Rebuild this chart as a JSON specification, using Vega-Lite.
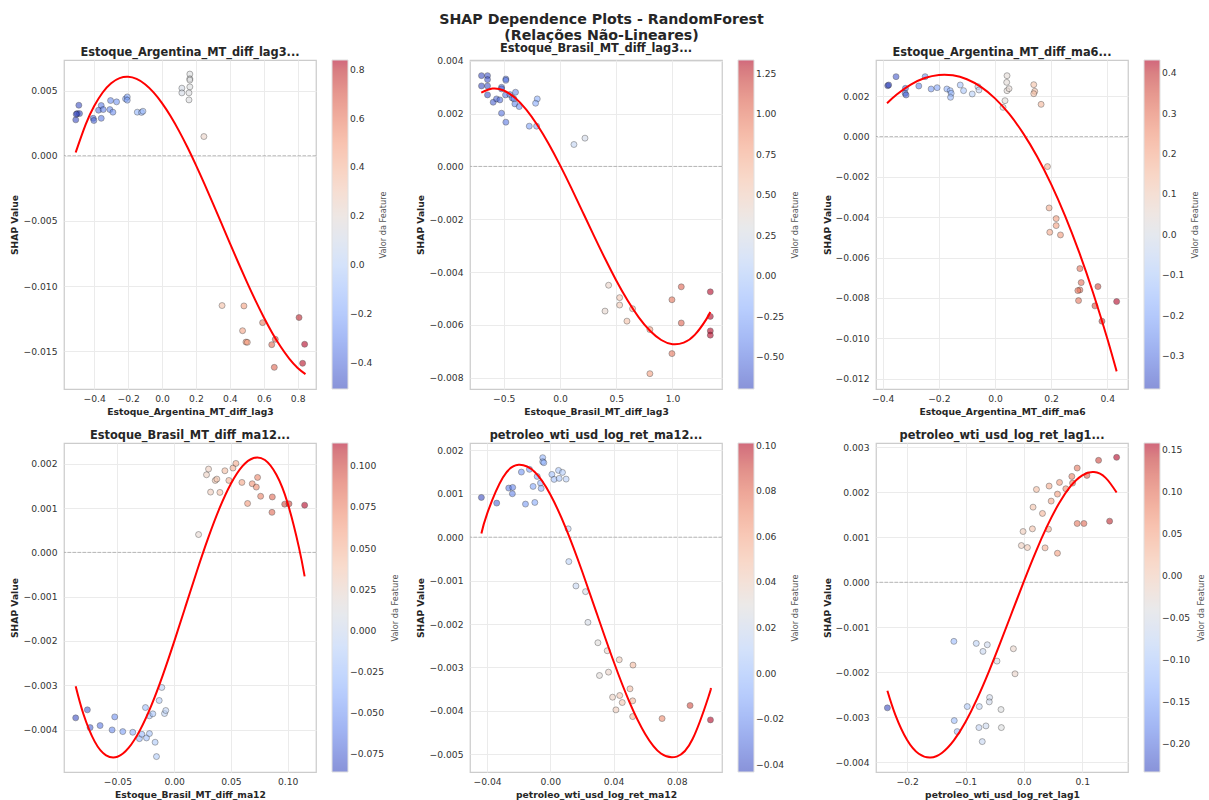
{
  "$schema": "https://vega.github.io/schema/vega-lite/v6.json",
  "padding": {"left": 10, "top": 12, "right": 5, "bottom": 5},
  "background": "white",
  "title": {"text": ["SHAP Dependence Plots - RandomForest", "(Relações Não-Lineares)"], "fontSize": 14.2, "fontWeight": "bold", "lineHeight": 16, "offset": 0, "dx": -7, "anchor": "middle", "color": "#262626", "font": "DejaVu Sans"},
  "datasets": {
    "zero": [{"y": 0}],
    "p1": [
      {"x": -0.4905, "y": 0.00387}, {"x": -0.5003, "y": 0.00323}, {"x": -0.4865, "y": 0.00323}, {"x": -0.5086, "y": 0.00275}, {"x": -0.506, "y": 0.00318},
      {"x": -0.4058, "y": 0.00287}, {"x": -0.4018, "y": 0.0027}, {"x": -0.3743, "y": 0.00349}, {"x": -0.3585, "y": 0.00385}, {"x": -0.3585, "y": 0.00287},
      {"x": -0.3467, "y": 0.00354}, {"x": -0.3034, "y": 0.00423}, {"x": -0.3074, "y": 0.00354}, {"x": -0.2896, "y": 0.00334}, {"x": -0.268, "y": 0.00413},
      {"x": -0.2149, "y": 0.00436}, {"x": -0.205, "y": 0.00451}, {"x": -0.205, "y": 0.00426}, {"x": -0.1459, "y": 0.00334}, {"x": -0.121, "y": 0.00332},
      {"x": -0.1125, "y": 0.00341}, {"x": 0.117, "y": 0.00518}, {"x": 0.117, "y": 0.00482}, {"x": 0.164, "y": 0.00626}, {"x": 0.164, "y": 0.0059},
      {"x": 0.164, "y": 0.0058}, {"x": 0.164, "y": 0.00528}, {"x": 0.159, "y": 0.00482}, {"x": 0.159, "y": 0.00428}, {"x": 0.247, "y": 0.00147},
      {"x": 0.354, "y": -0.01149}, {"x": 0.483, "y": -0.01152}, {"x": 0.593, "y": -0.0128}, {"x": 0.475, "y": -0.01342}, {"x": 0.495, "y": -0.01429},
      {"x": 0.503, "y": -0.01431}, {"x": 0.647, "y": -0.01449}, {"x": 0.668, "y": -0.01408}, {"x": 0.662, "y": -0.01623}, {"x": 0.808, "y": -0.01241},
      {"x": 0.841, "y": -0.01446}, {"x": 0.829, "y": -0.01592}
    ],
    "c1": [
      {"x": -0.509, "y": 0.00025}, {"x": -0.45, "y": 0.002404}, {"x": -0.4, "y": 0.003807}, {"x": -0.35, "y": 0.004847}, {"x": -0.3, "y": 0.005556},
      {"x": -0.25, "y": 0.005948}, {"x": -0.2, "y": 0.00605}, {"x": -0.15, "y": 0.005886}, {"x": -0.1, "y": 0.00548}, {"x": -0.05, "y": 0.004856},
      {"x": 0, "y": 0.004036}, {"x": 0.05, "y": 0.003045}, {"x": 0.1, "y": 0.001906}, {"x": 0.15, "y": 0.000644}, {"x": 0.2, "y": -0.000719},
      {"x": 0.25, "y": -0.002159}, {"x": 0.3, "y": -0.003651}, {"x": 0.35, "y": -0.005173}, {"x": 0.4, "y": -0.0067}, {"x": 0.45, "y": -0.008209},
      {"x": 0.5, "y": -0.009676}, {"x": 0.55, "y": -0.011078}, {"x": 0.6, "y": -0.01239}, {"x": 0.65, "y": -0.01359}, {"x": 0.7, "y": -0.014653},
      {"x": 0.75, "y": -0.015555}, {"x": 0.8, "y": -0.016274}, {"x": 0.846, "y": -0.016752}
    ],
    "p2": [
      {"x": -0.6976, "y": 0.003438}, {"x": -0.6443, "y": 0.003438}, {"x": -0.6443, "y": 0.003287}, {"x": -0.6976, "y": 0.003048}, {"x": -0.6443, "y": 0.003048},
      {"x": -0.6443, "y": 0.002708}, {"x": -0.5939, "y": 0.002431}, {"x": -0.5643, "y": 0.002557}, {"x": -0.5346, "y": 0.002519}, {"x": -0.5198, "y": 0.002997},
      {"x": -0.5198, "y": 0.002935}, {"x": -0.4813, "y": 0.00331}, {"x": -0.4813, "y": 0.00326}, {"x": -0.4842, "y": 0.002708}, {"x": -0.4456, "y": 0.00272},
      {"x": -0.4249, "y": 0.002594}, {"x": -0.41, "y": 0.00256}, {"x": -0.3953, "y": 0.002809}, {"x": -0.4012, "y": 0.002368}, {"x": -0.3626, "y": 0.002267},
      {"x": -0.5198, "y": 0.002015}, {"x": -0.4813, "y": 0.001675}, {"x": -0.2732, "y": 0.001524}, {"x": -0.208, "y": 0.001524}, {"x": -0.2021, "y": 0.002557},
      {"x": -0.2169, "y": 0.002393}, {"x": 0.124, "y": 0.00083}, {"x": 0.222, "y": 0.00107}, {"x": 0.432, "y": -0.0045}, {"x": 0.4, "y": -0.00548},
      {"x": 0.53, "y": -0.00497}, {"x": 0.53, "y": -0.00525}, {"x": 0.645, "y": -0.00539}, {"x": 0.595, "y": -0.00586}, {"x": 0.799, "y": -0.00618},
      {"x": 0.799, "y": -0.00785}, {"x": 0.995, "y": -0.00505}, {"x": 0.995, "y": -0.00709}, {"x": 1.078, "y": -0.00456}, {"x": 1.078, "y": -0.00593},
      {"x": 1.336, "y": -0.00475}, {"x": 1.336, "y": -0.00568}, {"x": 1.336, "y": -0.00623}, {"x": 1.336, "y": -0.00639}
    ],
    "c2": [
      {"x": -0.7, "y": 0.002792}, {"x": -0.6, "y": 0.002948}, {"x": -0.5, "y": 0.002874}, {"x": -0.4, "y": 0.002599}, {"x": -0.3, "y": 0.002151},
      {"x": -0.2, "y": 0.001558}, {"x": -0.1, "y": 0.000847}, {"x": 0, "y": 0.000047}, {"x": 0.1, "y": -0.000814}, {"x": 0.2, "y": -0.00171},
      {"x": 0.3, "y": -0.002611}, {"x": 0.4, "y": -0.00349}, {"x": 0.5, "y": -0.004319}, {"x": 0.6, "y": -0.005069}, {"x": 0.7, "y": -0.005714},
      {"x": 0.8, "y": -0.006225}, {"x": 0.9, "y": -0.006574}, {"x": 1.0, "y": -0.006734}, {"x": 1.1, "y": -0.006675}, {"x": 1.2, "y": -0.006372},
      {"x": 1.3, "y": -0.005794}, {"x": 1.336, "y": -0.005514}
    ],
    "p3": [
      {"x": -0.3821, "y": 0.002524}, {"x": -0.3786, "y": 0.002556}, {"x": -0.3524, "y": 0.002969}, {"x": -0.319, "y": 0.002391}, {"x": -0.3202, "y": 0.002144},
      {"x": -0.3167, "y": 0.002061}, {"x": -0.2714, "y": 0.002507}, {"x": -0.2488, "y": 0.002969}, {"x": -0.2274, "y": 0.002358}, {"x": -0.206, "y": 0.002424},
      {"x": -0.1714, "y": 0.002358}, {"x": -0.1595, "y": 0.002276}, {"x": -0.156, "y": 0.002144}, {"x": -0.1583, "y": 0.001946}, {"x": -0.1238, "y": 0.002556},
      {"x": -0.1119, "y": 0.002276}, {"x": -0.081, "y": 0.002111}, {"x": -0.0607, "y": 0.002474}, {"x": -0.0571, "y": 0.002309}, {"x": 0.0429, "y": 0.003017},
      {"x": 0.0417, "y": 0.002687}, {"x": 0.0429, "y": 0.002274}, {"x": 0.05, "y": 0.002373}, {"x": 0.0357, "y": 0.00178}, {"x": 0.0286, "y": 0.00145},
      {"x": 0.1381, "y": 0.002572}, {"x": 0.1417, "y": 0.002242}, {"x": 0.1381, "y": 0.002126}, {"x": 0.1643, "y": 0.001598}, {"x": 0.1869, "y": -0.001488},
      {"x": 0.1929, "y": -0.003536}, {"x": 0.2179, "y": -0.004066}, {"x": 0.2179, "y": -0.004412}, {"x": 0.1952, "y": -0.004742}, {"x": 0.2333, "y": -0.004875},
      {"x": 0.3024, "y": -0.006543}, {"x": 0.3071, "y": -0.007237}, {"x": 0.3024, "y": -0.007601}, {"x": 0.2952, "y": -0.007634}, {"x": 0.2976, "y": -0.008129},
      {"x": 0.3667, "y": -0.007435}, {"x": 0.356, "y": -0.00839}, {"x": 0.381, "y": -0.00915}, {"x": 0.4333, "y": -0.008177}
    ],
    "c3": [
      {"x": -0.3845, "y": 0.001654}, {"x": -0.35, "y": 0.002085}, {"x": -0.3, "y": 0.002575}, {"x": -0.25, "y": 0.0029}, {"x": -0.2, "y": 0.003056},
      {"x": -0.15, "y": 0.003038}, {"x": -0.1, "y": 0.002842}, {"x": -0.05, "y": 0.002462}, {"x": 0, "y": 0.001893}, {"x": 0.05, "y": 0.001132},
      {"x": 0.1, "y": 0.000172}, {"x": 0.15, "y": -0.00099}, {"x": 0.2, "y": -0.00236}, {"x": 0.25, "y": -0.003942}, {"x": 0.3, "y": -0.005741},
      {"x": 0.35, "y": -0.007762}, {"x": 0.4, "y": -0.010011}, {"x": 0.4333, "y": -0.011637}
    ],
    "p4": [
      {"x": -0.0868, "y": -0.003735}, {"x": -0.0765, "y": -0.003554}, {"x": -0.0741, "y": -0.003954}, {"x": -0.0653, "y": -0.003909}, {"x": -0.0547, "y": -0.004007},
      {"x": -0.0524, "y": -0.003713}, {"x": -0.0453, "y": -0.004045}, {"x": -0.0365, "y": -0.00406}, {"x": -0.0306, "y": -0.004204}, {"x": -0.0285, "y": -0.004105},
      {"x": -0.0244, "y": -0.004188}, {"x": -0.0253, "y": -0.003502}, {"x": -0.0218, "y": -0.00409}, {"x": -0.0218, "y": -0.00369}, {"x": -0.0188, "y": -0.003644},
      {"x": -0.0168, "y": -0.004285}, {"x": -0.0156, "y": -0.004609}, {"x": -0.0132, "y": -0.003343}, {"x": -0.0109, "y": -0.003049}, {"x": -0.0085, "y": -0.003637},
      {"x": -0.0074, "y": -0.003569}, {"x": 0.0215, "y": 0.000403}, {"x": 0.0285, "y": 0.001752}, {"x": 0.0303, "y": 0.001881}, {"x": 0.0321, "y": 0.001361},
      {"x": 0.0362, "y": 0.001624}, {"x": 0.0376, "y": 0.001654}, {"x": 0.0403, "y": 0.001354}, {"x": 0.0447, "y": 0.001842}, {"x": 0.0482, "y": 0.001624},
      {"x": 0.0518, "y": 0.001903}, {"x": 0.0544, "y": 0.002008}, {"x": 0.0597, "y": 0.001579}, {"x": 0.0647, "y": 0.001104}, {"x": 0.0688, "y": 0.001549},
      {"x": 0.0724, "y": 0.001474}, {"x": 0.0735, "y": 0.001692}, {"x": 0.0762, "y": 0.001267}, {"x": 0.0865, "y": 0.001251}, {"x": 0.0862, "y": 0.000904},
      {"x": 0.0974, "y": 0.001088}, {"x": 0.1012, "y": 0.001096}, {"x": 0.115, "y": 0.001066}
    ],
    "c4": [
      {"x": -0.0868, "y": -0.003021}, {"x": -0.08, "y": -0.003647}, {"x": -0.07, "y": -0.004272}, {"x": -0.06, "y": -0.004581}, {"x": -0.05, "y": -0.004613},
      {"x": -0.04, "y": -0.004408}, {"x": -0.03, "y": -0.004006}, {"x": -0.02, "y": -0.003447}, {"x": -0.01, "y": -0.002769}, {"x": 0, "y": -0.002014},
      {"x": 0.01, "y": -0.001219}, {"x": 0.02, "y": -0.000426}, {"x": 0.03, "y": 0.000326}, {"x": 0.04, "y": 0.000997}, {"x": 0.05, "y": 0.001548},
      {"x": 0.06, "y": 0.00194}, {"x": 0.07, "y": 0.002131}, {"x": 0.08, "y": 0.002084}, {"x": 0.09, "y": 0.001757}, {"x": 0.1, "y": 0.001112},
      {"x": 0.11, "y": 0.000108}, {"x": 0.115, "y": -0.000541}
    ],
    "p5": [
      {"x": -0.0436, "y": 0.000915}, {"x": -0.0339, "y": 0.000785}, {"x": -0.0263, "y": 0.001131}, {"x": -0.0238, "y": 0.001146}, {"x": -0.024, "y": 0.001},
      {"x": -0.0183, "y": 0.0015}, {"x": -0.0157, "y": 0.000762}, {"x": -0.0132, "y": 0.001562}, {"x": -0.0109, "y": 0.001169}, {"x": -0.0098, "y": 0.0008},
      {"x": -0.0083, "y": 0.0014}, {"x": -0.0062, "y": 0.001246}, {"x": -0.0058, "y": 0.001123}, {"x": -0.0048, "y": 0.001831}, {"x": -0.0048, "y": 0.001738},
      {"x": -0.0041, "y": 0.001715}, {"x": 0.001, "y": 0.001446}, {"x": 0.0024, "y": 0.001331}, {"x": 0.0052, "y": 0.001538}, {"x": 0.0056, "y": 0.001354},
      {"x": 0.0077, "y": 0.001492}, {"x": 0.01, "y": 0.001338}, {"x": 0.0113, "y": 0.000192}, {"x": 0.0117, "y": -0.000562}, {"x": 0.0162, "y": -0.001123},
      {"x": 0.0223, "y": -0.001254}, {"x": 0.0238, "y": -0.001962}, {"x": 0.0301, "y": -0.002431}, {"x": 0.036, "y": -0.002615}, {"x": 0.0311, "y": -0.003185},
      {"x": 0.0368, "y": -0.003108}, {"x": 0.0436, "y": -0.002823}, {"x": 0.0523, "y": -0.002946}, {"x": 0.0394, "y": -0.003685}, {"x": 0.0439, "y": -0.003646},
      {"x": 0.0455, "y": -0.003808}, {"x": 0.0415, "y": -0.003977}, {"x": 0.0504, "y": -0.003492}, {"x": 0.0521, "y": -0.003769}, {"x": 0.0521, "y": -0.004131},
      {"x": 0.0707, "y": -0.004177}, {"x": 0.0884, "y": -0.003877}, {"x": 0.1013, "y": -0.004208}
    ],
    "c5": [
      {"x": -0.0436, "y": 0.000085}, {"x": -0.04, "y": 0.000538}, {"x": -0.03, "y": 0.001375}, {"x": -0.02, "y": 0.001666}, {"x": -0.01, "y": 0.001505},
      {"x": 0, "y": 0.000982}, {"x": 0.01, "y": 0.000192}, {"x": 0.02, "y": -0.000773}, {"x": 0.03, "y": -0.00182}, {"x": 0.04, "y": -0.002858},
      {"x": 0.05, "y": -0.003792}, {"x": 0.06, "y": -0.004531}, {"x": 0.07, "y": -0.004982}, {"x": 0.08, "y": -0.005053}, {"x": 0.09, "y": -0.004649},
      {"x": 0.1, "y": -0.00368}, {"x": 0.1013, "y": -0.003507}
    ],
    "p6": [
      {"x": -0.2338, "y": -0.002788}, {"x": -0.1199, "y": -0.001312}, {"x": -0.1193, "y": -0.003071}, {"x": -0.1142, "y": -0.003315}, {"x": -0.097, "y": -0.002759},
      {"x": -0.0816, "y": -0.001357}, {"x": -0.0701, "y": -0.001535}, {"x": -0.0627, "y": -0.001387}, {"x": -0.0764, "y": -0.002759}, {"x": -0.077, "y": -0.003226},
      {"x": -0.0713, "y": -0.003537}, {"x": -0.065, "y": -0.003189}, {"x": -0.0587, "y": -0.002558}, {"x": -0.0593, "y": -0.002655}, {"x": -0.0461, "y": -0.00175},
      {"x": -0.0392, "y": -0.002825}, {"x": -0.0386, "y": -0.003226}, {"x": -0.018, "y": -0.001476}, {"x": -0.0152, "y": -0.002032}, {"x": -0.0043, "y": 0.000816},
      {"x": -0.0014, "y": 0.001127}, {"x": 0.006, "y": 0.000771}, {"x": 0.0146, "y": 0.001186}, {"x": 0.0157, "y": 0.001668}, {"x": 0.0215, "y": 0.002061},
      {"x": 0.0318, "y": 0.001528}, {"x": 0.0363, "y": 0.000764}, {"x": 0.0421, "y": 0.001179}, {"x": 0.0432, "y": 0.002136}, {"x": 0.0467, "y": 0.001802},
      {"x": 0.0575, "y": 0.001958}, {"x": 0.0575, "y": 0.000645}, {"x": 0.061, "y": 0.002217}, {"x": 0.0718, "y": 0.002076}, {"x": 0.0821, "y": 0.00235},
      {"x": 0.0833, "y": 0.002202}, {"x": 0.0913, "y": 0.002536}, {"x": 0.0913, "y": 0.001305}, {"x": 0.1028, "y": 0.001305}, {"x": 0.1079, "y": 0.002373},
      {"x": 0.1279, "y": 0.002707}, {"x": 0.1468, "y": 0.001357}, {"x": 0.1588, "y": 0.002773}
    ],
    "c6": [
      {"x": -0.2338, "y": -0.002408}, {"x": -0.22, "y": -0.002949}, {"x": -0.2, "y": -0.003503}, {"x": -0.18, "y": -0.003808}, {"x": -0.16, "y": -0.003892},
      {"x": -0.14, "y": -0.003784}, {"x": -0.12, "y": -0.003511}, {"x": -0.1, "y": -0.003102}, {"x": -0.08, "y": -0.002583}, {"x": -0.06, "y": -0.001983},
      {"x": -0.04, "y": -0.001331}, {"x": -0.02, "y": -0.000653}, {"x": 0, "y": 0.000022}, {"x": 0.02, "y": 0.000666}, {"x": 0.04, "y": 0.001251},
      {"x": 0.06, "y": 0.001749}, {"x": 0.08, "y": 0.002133}, {"x": 0.1, "y": 0.002375}, {"x": 0.12, "y": 0.002446}, {"x": 0.14, "y": 0.002318},
      {"x": 0.1588, "y": 0.001992}
    ]
  },
  "columns": 3,
  "bounds": "flush",
  "spacing": {"row": 54, "column": 154},
  "resolve": {"scale": {"color": "independent", "x": "independent", "y": "independent"}, "legend": {"color": "independent"}},
  "concat": [
    {
      "width": 252, "height": 329,
      "title": {"text": "Estoque_Argentina_MT_diff_lag3...", "frame": "group", "fontSize": 11.4, "fontWeight": "bold", "offset": 2, "color": "#262626"},
      "layer": [
        {"data": {"name": "zero"}, "mark": {"type": "rule", "stroke": "#808080", "strokeDash": [3.5, 1.5], "strokeWidth": 1, "opacity": 0.5}, "encoding": {"y": {"field": "y", "type": "quantitative"}}},
        {"data": {"name": "p1"}, "mark": {"type": "circle", "size": 36, "opacity": 0.6, "stroke": "black", "strokeWidth": 0.5},
          "encoding": {
            "x": {"field": "x", "type": "quantitative", "scale": {"domain": [-0.578, 0.908], "nice": false, "zero": false}, "axis": {"title": "Estoque_Argentina_MT_diff_lag3", "values": [-0.4, -0.2, 0, 0.2, 0.4, 0.6, 0.8], "format": ".1f"}},
            "y": {"field": "y", "type": "quantitative", "scale": {"domain": [-0.01789, 0.00734], "nice": false, "zero": false}, "axis": {"title": "SHAP Value", "values": [-0.015, -0.01, -0.005, 0, 0.005], "format": ".3f"}},
            "color": {"field": "x", "type": "quantitative", "scale": {"domain": [-0.505, -0.337, -0.169, -0.001, 0.167, 0.335, 0.503, 0.671, 0.839], "range": ["#3b4cc0", "#6282ea", "#8db0fe", "#b8d0f9", "#dddddd", "#f5c4ac", "#f49a7b", "#de604d", "#b40426"], "clamp": true}, "legend": {"title": "Valor da Feature", "values": [-0.4, -0.2, 0, 0.2, 0.4, 0.6, 0.8], "format": ".1f", "encode": {"title": {"update": {"angle": {"value": 270}, "align": {"value": "center"}, "baseline": {"value": "top"}}}}}}
          }},
        {"data": {"name": "c1"}, "mark": {"type": "line", "stroke": "red", "strokeWidth": 2, "interpolate": "natural"}, "encoding": {"x": {"field": "x", "type": "quantitative"}, "y": {"field": "y", "type": "quantitative"}}}
      ]
    },
    {
      "width": 252, "height": 329,
      "title": {"text": "Estoque_Brasil_MT_diff_lag3...", "frame": "group", "fontSize": 11.4, "fontWeight": "bold", "offset": 2, "color": "#262626"},
      "layer": [
        {"data": {"name": "zero"}, "mark": {"type": "rule", "stroke": "#808080", "strokeDash": [3.5, 1.5], "strokeWidth": 1, "opacity": 0.5}, "encoding": {"y": {"field": "y", "type": "quantitative"}}},
        {"data": {"name": "p2"}, "mark": {"type": "circle", "size": 36, "opacity": 0.6, "stroke": "black", "strokeWidth": 0.5},
          "encoding": {
            "x": {"field": "x", "type": "quantitative", "scale": {"domain": [-0.8, 1.44], "nice": false, "zero": false}, "axis": {"title": "Estoque_Brasil_MT_diff_lag3", "values": [-0.5, 0, 0.5, 1.0], "format": ".1f"}},
            "y": {"field": "y", "type": "quantitative", "scale": {"domain": [-0.00843, 0.00403], "nice": false, "zero": false}, "axis": {"title": "SHAP Value", "values": [-0.008, -0.006, -0.004, -0.002, 0, 0.002, 0.004], "format": ".3f"}},
            "color": {"field": "x", "type": "quantitative", "scale": {"domain": [-0.698, -0.443625, -0.18925, 0.065125, 0.3195, 0.573875, 0.82825, 1.082625, 1.337], "range": ["#3b4cc0", "#6282ea", "#8db0fe", "#b8d0f9", "#dddddd", "#f5c4ac", "#f49a7b", "#de604d", "#b40426"], "clamp": true}, "legend": {"title": "Valor da Feature", "values": [-0.5, -0.25, 0, 0.25, 0.5, 0.75, 1.0, 1.25], "format": ".2f", "encode": {"title": {"update": {"angle": {"value": 270}, "align": {"value": "center"}, "baseline": {"value": "top"}}}}}}
          }},
        {"data": {"name": "c2"}, "mark": {"type": "line", "stroke": "red", "strokeWidth": 2, "interpolate": "natural"}, "encoding": {"x": {"field": "x", "type": "quantitative"}, "y": {"field": "y", "type": "quantitative"}}}
      ]
    },
    {
      "width": 252, "height": 329,
      "title": {"text": "Estoque_Argentina_MT_diff_ma6...", "frame": "group", "fontSize": 11.4, "fontWeight": "bold", "offset": 2, "color": "#262626"},
      "layer": [
        {"data": {"name": "zero"}, "mark": {"type": "rule", "stroke": "#808080", "strokeDash": [3.5, 1.5], "strokeWidth": 1, "opacity": 0.5}, "encoding": {"y": {"field": "y", "type": "quantitative"}}},
        {"data": {"name": "p3"}, "mark": {"type": "circle", "size": 36, "opacity": 0.6, "stroke": "black", "strokeWidth": 0.5},
          "encoding": {
            "x": {"field": "x", "type": "quantitative", "scale": {"domain": [-0.4238, 0.4738], "nice": false, "zero": false}, "axis": {"title": "Estoque_Argentina_MT_diff_ma6", "values": [-0.4, -0.2, 0, 0.2, 0.4], "format": ".1f"}},
            "y": {"field": "y", "type": "quantitative", "scale": {"domain": [-0.01251, 0.003795], "nice": false, "zero": false}, "axis": {"title": "SHAP Value", "values": [-0.012, -0.01, -0.008, -0.006, -0.004, -0.002, 0, 0.002], "format": ".3f"}},
            "color": {"field": "x", "type": "quantitative", "scale": {"domain": [-0.382, -0.280125, -0.17825, -0.076375, 0.0255, 0.127375, 0.22925, 0.331125, 0.433], "range": ["#3b4cc0", "#6282ea", "#8db0fe", "#b8d0f9", "#dddddd", "#f5c4ac", "#f49a7b", "#de604d", "#b40426"], "clamp": true}, "legend": {"title": "Valor da Feature", "values": [-0.3, -0.2, -0.1, 0, 0.1, 0.2, 0.3, 0.4], "format": ".1f", "encode": {"title": {"update": {"angle": {"value": 270}, "align": {"value": "center"}, "baseline": {"value": "top"}}}}}}
          }},
        {"data": {"name": "c3"}, "mark": {"type": "line", "stroke": "red", "strokeWidth": 2, "interpolate": "natural"}, "encoding": {"x": {"field": "x", "type": "quantitative"}, "y": {"field": "y", "type": "quantitative"}}}
      ]
    },
    {
      "width": 252, "height": 329,
      "title": {"text": "Estoque_Brasil_MT_diff_ma12...", "frame": "group", "fontSize": 11.4, "fontWeight": "bold", "offset": 2, "color": "#262626"},
      "layer": [
        {"data": {"name": "zero"}, "mark": {"type": "rule", "stroke": "#808080", "strokeDash": [3.5, 1.5], "strokeWidth": 1, "opacity": 0.5}, "encoding": {"y": {"field": "y", "type": "quantitative"}}},
        {"data": {"name": "p4"}, "mark": {"type": "circle", "size": 36, "opacity": 0.6, "stroke": "black", "strokeWidth": 0.5},
          "encoding": {
            "x": {"field": "x", "type": "quantitative", "scale": {"domain": [-0.0971, 0.125], "nice": false, "zero": false}, "axis": {"title": "Estoque_Brasil_MT_diff_ma12", "values": [-0.05, 0, 0.05, 0.1], "format": ".2f"}},
            "y": {"field": "y", "type": "quantitative", "scale": {"domain": [-0.004957, 0.002469], "nice": false, "zero": false}, "axis": {"title": "SHAP Value", "values": [-0.004, -0.003, -0.002, -0.001, 0, 0.001, 0.002], "format": ".3f"}},
            "color": {"field": "x", "type": "quantitative", "scale": {"domain": [-0.0858, -0.0608, -0.0358, -0.0108, 0.0142, 0.0392, 0.0642, 0.0892, 0.1142], "range": ["#3b4cc0", "#6282ea", "#8db0fe", "#b8d0f9", "#dddddd", "#f5c4ac", "#f49a7b", "#de604d", "#b40426"], "clamp": true}, "legend": {"title": "Valor da Feature", "values": [-0.075, -0.05, -0.025, 0, 0.025, 0.05, 0.075, 0.1], "format": ".3f", "encode": {"title": {"update": {"angle": {"value": 270}, "align": {"value": "center"}, "baseline": {"value": "top"}}}}}}
          }},
        {"data": {"name": "c4"}, "mark": {"type": "line", "stroke": "red", "strokeWidth": 2, "interpolate": "natural"}, "encoding": {"x": {"field": "x", "type": "quantitative"}, "y": {"field": "y", "type": "quantitative"}}}
      ]
    },
    {
      "width": 252, "height": 329,
      "title": {"text": "petroleo_wti_usd_log_ret_ma12...", "frame": "group", "fontSize": 11.4, "fontWeight": "bold", "offset": 2, "color": "#262626"},
      "layer": [
        {"data": {"name": "zero"}, "mark": {"type": "rule", "stroke": "#808080", "strokeDash": [3.5, 1.5], "strokeWidth": 1, "opacity": 0.5}, "encoding": {"y": {"field": "y", "type": "quantitative"}}},
        {"data": {"name": "p5"}, "mark": {"type": "circle", "size": 36, "opacity": 0.6, "stroke": "black", "strokeWidth": 0.5},
          "encoding": {
            "x": {"field": "x", "type": "quantitative", "scale": {"domain": [-0.0508, 0.1086], "nice": false, "zero": false}, "axis": {"title": "petroleo_wti_usd_log_ret_ma12", "values": [-0.04, -0.02, 0, 0.02, 0.04, 0.06, 0.08, 0.1], "format": ".2f"}},
            "y": {"field": "y", "type": "quantitative", "scale": {"domain": [-0.005408, 0.002169], "nice": false, "zero": false}, "axis": {"title": "SHAP Value", "values": [-0.005, -0.004, -0.003, -0.002, -0.001, 0, 0.001, 0.002], "format": ".3f"}},
            "color": {"field": "x", "type": "quantitative", "scale": {"domain": [-0.0432, -0.02515, -0.0071, 0.01095, 0.029, 0.04705, 0.0651, 0.08315, 0.1012], "range": ["#3b4cc0", "#6282ea", "#8db0fe", "#b8d0f9", "#dddddd", "#f5c4ac", "#f49a7b", "#de604d", "#b40426"], "clamp": true}, "legend": {"title": "Valor da Feature", "values": [-0.04, -0.02, 0, 0.02, 0.04, 0.06, 0.08, 0.1], "format": ".2f", "encode": {"title": {"update": {"angle": {"value": 270}, "align": {"value": "center"}, "baseline": {"value": "top"}}}}}}
          }},
        {"data": {"name": "c5"}, "mark": {"type": "line", "stroke": "red", "strokeWidth": 2, "interpolate": "natural"}, "encoding": {"x": {"field": "x", "type": "quantitative"}, "y": {"field": "y", "type": "quantitative"}}}
      ]
    },
    {
      "width": 252, "height": 329,
      "title": {"text": "petroleo_wti_usd_log_ret_lag1...", "frame": "group", "fontSize": 11.4, "fontWeight": "bold", "offset": 2, "color": "#262626"},
      "layer": [
        {"data": {"name": "zero"}, "mark": {"type": "rule", "stroke": "#808080", "strokeDash": [3.5, 1.5], "strokeWidth": 1, "opacity": 0.5}, "encoding": {"y": {"field": "y", "type": "quantitative"}}},
        {"data": {"name": "p6"}, "mark": {"type": "circle", "size": 36, "opacity": 0.6, "stroke": "black", "strokeWidth": 0.5},
          "encoding": {
            "x": {"field": "x", "type": "quantitative", "scale": {"domain": [-0.2533, 0.1783], "nice": false, "zero": false}, "axis": {"title": "petroleo_wti_usd_log_ret_lag1", "values": [-0.2, -0.1, 0, 0.1], "format": ".1f"}},
            "y": {"field": "y", "type": "quantitative", "scale": {"domain": [-0.004212, 0.003092], "nice": false, "zero": false}, "axis": {"title": "SHAP Value", "values": [-0.004, -0.003, -0.002, -0.001, 0, 0.001, 0.002, 0.003], "format": ".3f"}},
            "color": {"field": "x", "type": "quantitative", "scale": {"domain": [-0.233, -0.1840875, -0.135175, -0.0862625, -0.03735, 0.0115625, 0.060475, 0.1093875, 0.1583], "range": ["#3b4cc0", "#6282ea", "#8db0fe", "#b8d0f9", "#dddddd", "#f5c4ac", "#f49a7b", "#de604d", "#b40426"], "clamp": true}, "legend": {"title": "Valor da Feature", "values": [-0.2, -0.15, -0.1, -0.05, 0, 0.05, 0.1, 0.15], "format": ".2f", "encode": {"title": {"update": {"angle": {"value": 270}, "align": {"value": "center"}, "baseline": {"value": "top"}}}}}}
          }},
        {"data": {"name": "c6"}, "mark": {"type": "line", "stroke": "red", "strokeWidth": 2, "interpolate": "natural"}, "encoding": {"x": {"field": "x", "type": "quantitative"}, "y": {"field": "y", "type": "quantitative"}}}
      ]
    }
  ],
  "config": {
    "font": "DejaVu Sans",
    "view": {"stroke": "#cccccc", "strokeWidth": 1.25},
    "axis": {"grid": true, "gridColor": "#ebebeb", "gridWidth": 1, "domain": false, "ticks": false, "tickSize": 0, "labelFont": "DejaVu Sans", "labelFontSize": 9.2, "labelColor": "#333333", "labelOverlap": false, "labelFlush": false, "titleFont": "DejaVu Sans", "titleFontSize": 9.2, "titleFontWeight": "bold", "titleColor": "#262626"},
    "axisX": {"labelPadding": 5, "titlePadding": 4},
    "axisY": {"labelPadding": 7, "titlePadding": 3},
    "legend": {"gradientLength": 329, "gradientThickness": 16, "gradientOpacity": 0.6, "gradientStrokeColor": "#cccccc", "gradientStrokeWidth": 1, "offset": 16, "padding": 0, "labelFont": "DejaVu Sans", "labelFontSize": 9.2, "labelColor": "#333333", "labelOffset": 7, "labelOverlap": false, "titleOrient": "right", "titleAnchor": "middle", "titleFont": "DejaVu Sans", "titleFontSize": 8.2, "titleFontWeight": "normal", "titleColor": "#555555", "titlePadding": 8}
  }
}
